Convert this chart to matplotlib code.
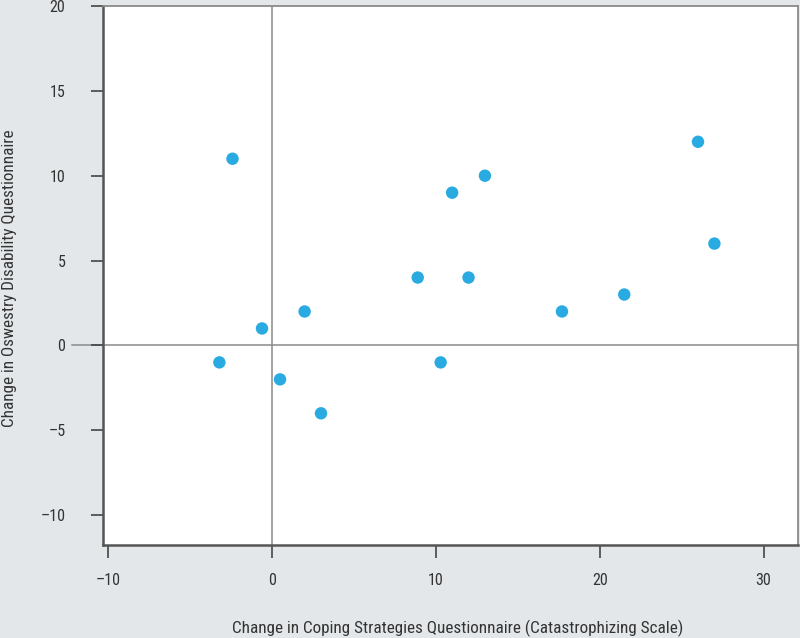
import matplotlib.pyplot as plt
from matplotlib import font_manager

# Change scores per patient
csq_change = [-3.2, -2.4, -0.6, 0.5, 2.0, 3.0, 8.9, 10.3, 11.0, 12.0, 13.0, 17.7, 21.5, 26.0, 27.0]
odq_change = [-1, 11, 1, -2, 2, -4, 4, -1, 9, 4, 10, 2, 3, 12, 6]

x_ticks = [-10, 0, 10, 20, 30]
y_ticks = [-10, -5, 0, 5, 10, 15, 20]

# pick a condensed sans if one is installed
fonts = font_manager.fontManager.ttflist
names = {f.name for f in fonts}
family = 'Liberation Sans'
for cand in ['Liberation Sans Narrow', 'Roboto Condensed', 'Open Sans Condensed',
             'Noto Sans Condensed', 'DejaVu Sans Condensed']:
    if cand in names:
        family = cand
        break
else:
    for cand in ['Noto Sans', 'DejaVu Sans', 'Open Sans', 'Roboto']:
        if any(f.name == cand and f.stretch in ('condensed', 'semi-condensed') for f in fonts):
            family = cand
            plt.rcParams['font.stretch'] = 'condensed'
            break
plt.rcParams['font.family'] = [family, 'DejaVu Sans']

bg = '#e3e7ea'
txt = '#333333'

fig = plt.figure(figsize=(8, 6.38), dpi=100, facecolor=bg)
ax = fig.add_axes([103 / 800, 1 - 545 / 638, 695 / 800, 539 / 638])
ax.set_facecolor('white')

ax.axvline(0, color='#8a8a8a', lw=1.1, zorder=1)
ax.axhline(0, xmin=-0.045, xmax=1, color='#8a8a8a', lw=1.1, zorder=1, clip_on=False)

ax.scatter(csq_change, odq_change, s=80, color='#29abe2', edgecolors='none', zorder=3)

ax.set_xlim(-10.3, 32.1)
ax.set_ylim(-11.76, 20)
ax.set_xticks(x_ticks)
ax.set_yticks(y_ticks)
ax.set_xticklabels(['\u201310', '0', '10', '20', '30'])
ax.set_yticklabels(['\u201310', '\u20135', '0', '5', '10', '15', '20'])

for side in ['left', 'bottom']:
    ax.spines[side].set_color('#555555')
    ax.spines[side].set_linewidth(1.8)
for side in ['top', 'right']:
    ax.spines[side].set_color('#8a8a8a')
    ax.spines[side].set_linewidth(1.3)

ax.tick_params(axis='both', direction='out', length=9, width=1.2, color='#444444',
               labelsize=11.5, labelcolor=txt)
ax.tick_params(axis='x', pad=11)
ax.tick_params(axis='y', pad=18)

ax.set_xlabel('Change in Coping Strategies Questionnaire (Catastrophizing Scale)',
              fontsize=12.3, color=txt)
ax.set_ylabel('Change in Oswestry Disability Questionnaire',
              fontsize=12.3, color=txt)
ax.xaxis.set_label_coords(0.51, -0.154)
ax.yaxis.set_label_coords(-0.134, 0.495)
ax.xaxis.label.set_va('center')
ax.yaxis.label.set_va('center')

fig.savefig('out.png', dpi=100, facecolor=bg)
